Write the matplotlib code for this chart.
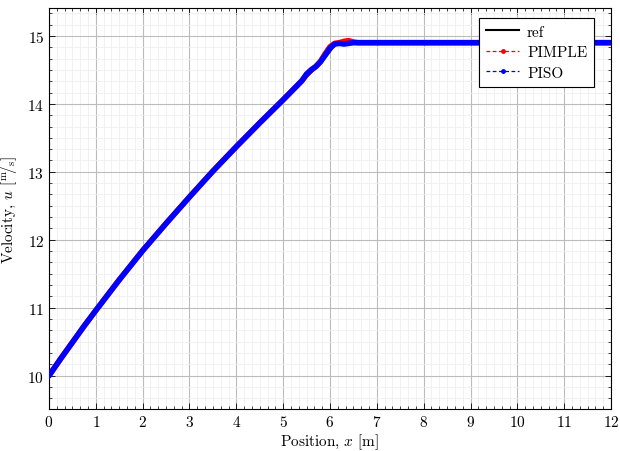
import matplotlib
matplotlib.use("Agg")
import matplotlib.pyplot as plt
from matplotlib.lines import Line2D
from matplotlib.ticker import MultipleLocator

plt.rcParams['font.family'] = 'serif'
plt.rcParams['font.serif'] = ['cmr10']
plt.rcParams['mathtext.fontset'] = 'cm'
plt.rcParams['axes.formatter.use_mathtext'] = True

# position [m]
x = [0, 0.25, 0.5, 0.75, 1, 1.5, 2, 2.5, 3, 3.5, 4, 4.5, 5, 5.2, 5.4, 5.5,
     5.6, 5.7, 5.8, 5.9, 6.0, 6.1, 6.2, 6.3, 6.4, 6.5, 6.6, 7, 8, 9, 10, 11, 12]
# velocity [m/s]
u_ref = [10, 10.25, 10.49, 10.73, 10.96, 11.41, 11.84, 12.24, 12.63, 13.01,
         13.37, 13.72, 14.06, 14.2, 14.33, 14.4, 14.47, 14.54, 14.61, 14.69,
         14.78, 14.87, 14.89, 14.9, 14.9, 14.9, 14.9, 14.9, 14.9, 14.9, 14.9,
         14.9, 14.9]
u_pimple = [10, 10.25, 10.49, 10.73, 10.96, 11.41, 11.84, 12.24, 12.63, 13.01,
            13.37, 13.72, 14.06, 14.2, 14.34, 14.43, 14.5, 14.55, 14.63, 14.74,
            14.84, 14.89, 14.9, 14.92, 14.93, 14.91, 14.9, 14.9, 14.9, 14.9,
            14.9, 14.9, 14.9]
u_piso = [10, 10.25, 10.49, 10.73, 10.96, 11.41, 11.84, 12.24, 12.63, 13.01,
          13.37, 13.72, 14.06, 14.2, 14.34, 14.44, 14.5, 14.55, 14.62, 14.72,
          14.82, 14.88, 14.89, 14.88, 14.89, 14.9, 14.9, 14.9, 14.9, 14.9,
          14.9, 14.9, 14.9]

fig = plt.figure(figsize=(6.2, 4.52), dpi=100)
ax = fig.add_axes([0.079, 0.093, 0.9065, 0.887])

ax.plot(x, u_ref, color='black', lw=2, zorder=3)
ax.plot(x, u_pimple, color='red', lw=4, solid_capstyle='round', zorder=4)
ax.plot(x, u_piso, color='blue', lw=4, solid_capstyle='round', zorder=5)

ax.set_xlim(0, 12)
ax.set_ylim(9.51, 15.41)
ax.xaxis.set_major_locator(MultipleLocator(1))
ax.yaxis.set_major_locator(MultipleLocator(1))
ax.xaxis.set_minor_locator(MultipleLocator(1/6))
ax.yaxis.set_minor_locator(MultipleLocator(1/6))
ax.grid(which='major', color='#bcbcbc', lw=0.8)
ax.grid(which='minor', color='#efefef', lw=0.6)
ax.set_axisbelow(True)
ax.tick_params(which='both', direction='in', top=True, right=True, labelsize=11)
ax.tick_params(which='major', length=4, width=0.6)
ax.tick_params(which='minor', length=2, width=0.5)
for s in ax.spines.values():
    s.set_linewidth(0.8)

ax.set_xlabel(r'Position, $x$ [m]', fontsize=11, labelpad=2)
ax.set_ylabel(r'Velocity, $u$ $[^{\mathrm{m}}\!/_{\mathrm{s}}]$', fontsize=11, labelpad=6)

handles = [
    Line2D([], [], color='black', lw=1.5),
    Line2D([], [], color='red', lw=0.9, ls='--', dashes=(3, 2), marker='o',
           markersize=2.5, markeredgecolor='red', markerfacecolor='red'),
    Line2D([], [], color='blue', lw=0.9, ls='--', dashes=(3, 2), marker='o',
           markersize=2.5, markeredgecolor='blue', markerfacecolor='blue'),
]
leg = ax.legend(handles, ['ref', 'PIMPLE', 'PISO'], loc='upper right',
                bbox_to_anchor=(0.97, 0.975), borderaxespad=0, fontsize=11,
                fancybox=False, framealpha=1, edgecolor='black',
                handlelength=2.2, borderpad=0.45, labelspacing=0.45,
                handletextpad=0.5)
leg.get_frame().set_linewidth(0.8)

fig.savefig('out.png', dpi=100)
